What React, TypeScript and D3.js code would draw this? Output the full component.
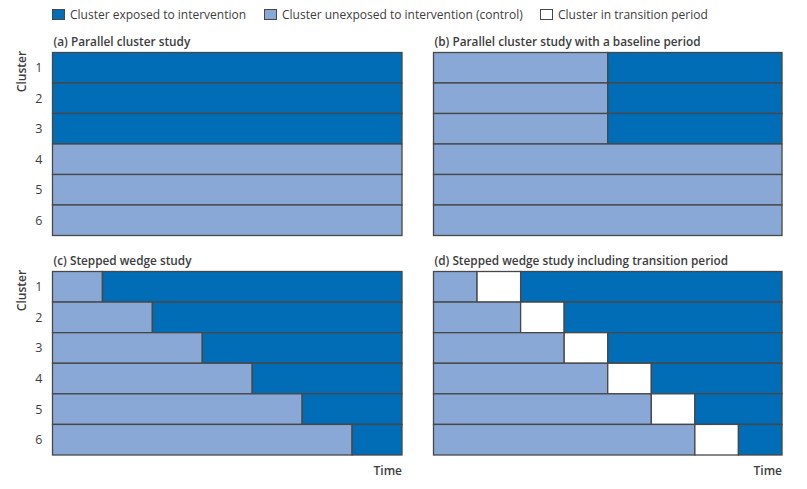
import React from "react";
import * as d3 from "d3";

const clusters = ["1", "2", "3", "4", "5", "6"];
// E = exposed to intervention, C = unexposed (control), T = transition period
const panelAStates = [["E"], ["E"], ["E"], ["C"], ["C"], ["C"]];
const panelBStates = [
  ["C", "E"], ["C", "E"], ["C", "E"], ["C", "C"], ["C", "C"], ["C", "C"],
];
const panelCStates = [
  ["C", "E", "E", "E", "E", "E", "E"],
  ["C", "C", "E", "E", "E", "E", "E"],
  ["C", "C", "C", "E", "E", "E", "E"],
  ["C", "C", "C", "C", "E", "E", "E"],
  ["C", "C", "C", "C", "C", "E", "E"],
  ["C", "C", "C", "C", "C", "C", "E"],
];
const panelDStates = [
  ["C", "T", "E", "E", "E", "E", "E", "E"],
  ["C", "C", "T", "E", "E", "E", "E", "E"],
  ["C", "C", "C", "T", "E", "E", "E", "E"],
  ["C", "C", "C", "C", "T", "E", "E", "E"],
  ["C", "C", "C", "C", "C", "T", "E", "E"],
  ["C", "C", "C", "C", "C", "C", "T", "E"],
];
const panelTitles = [
  "(a) Parallel cluster study",
  "(b) Parallel cluster study with a baseline period",
  "(c) Stepped wedge study",
  "(d) Stepped wedge study including transition period",
];
const legendLabels = [
  { key: "E", label: "Cluster exposed to intervention" },
  { key: "C", label: "Cluster unexposed to intervention (control)" },
  { key: "T", label: "Cluster in transition period" },
];

const COLORS: Record<string, string> = { E: "#006db6", C: "#8aa8d6", T: "#ffffff" };
const STROKE = "#474747";
const TEXT = "#3d3d3d";
const FONT = "'Open Sans', 'Noto Sans', sans-serif";

type PanelProps = {
  states: string[][];
  title: string;
  x0: number;
  x1: number;
  y0: number;
  y1: number;
  showY: boolean;
  showTime: boolean;
};

function Panel({ states, title, x0, x1, y0, y1, showY, showTime }: PanelProps) {
  const n = states[0].length;
  const x = d3.scaleLinear().domain([0, n]).range([x0, x1]);
  const y = d3.scaleBand<string>().domain(clusters).range([y0, y1]).padding(0);
  const segs: { row: string; s: number; e: number; k: string }[] = [];
  states.forEach((row, i) => {
    let start = 0;
    for (let j = 1; j <= row.length; j++) {
      if (j === row.length || row[j] !== row[start]) {
        segs.push({ row: clusters[i], s: start, e: j, k: row[start] });
        start = j;
      }
    }
  });
  return (
    <g>
      <text x={x0 + 1} y={y0 - 7} fill={TEXT} fontFamily={FONT} fontWeight={600} fontSize={11.8}>
        {title}
      </text>
      {segs.map((sg, i) => (
        <rect
          key={i}
          x={x(sg.s)}
          y={y(sg.row)!}
          width={x(sg.e) - x(sg.s)}
          height={y.bandwidth()}
          fill={COLORS[sg.k]}
          stroke={STROKE}
          strokeWidth={1.3}
        />
      ))}
      {showY && (
        <g>
          {clusters.map((c) => (
            <text
              key={c}
              x={x0 - 10}
              y={y(c)! + y.bandwidth() / 2 + 4.5}
              textAnchor="end"
              fill={TEXT}
              fontFamily={FONT}
              fontSize={12.5}
            >
              {c}
            </text>
          ))}
          <text
            transform={`translate(${26},${y0 + 19}) rotate(-90)`}
            textAnchor="middle"
            fill={TEXT}
            fontFamily={FONT}
            fontWeight={600}
            fontSize={12}
          >
            Cluster
          </text>
        </g>
      )}
      {showTime && (
        <text x={x1} y={y1 + 20} textAnchor="end" fill={TEXT} fontFamily={FONT} fontWeight={600} fontSize={12}>
          Time
        </text>
      )}
    </g>
  );
}

export default function App() {
  const legendX = [52, 264, 540];
  return (
    <svg
      width={807}
      height={489}
      style={{ position: "absolute", left: 0, top: 0, background: "#fff" }}
    >
      {legendLabels.map((l, i) => (
        <g key={l.key}>
          <rect x={legendX[i] + 0.5} y={9.5} width={12} height={10} fill={COLORS[l.key]} stroke={STROKE} strokeWidth={1} />
          <text x={legendX[i] + 18} y={18.5} fill={TEXT} fontFamily={FONT} fontSize={12}>
            {l.label}
          </text>
        </g>
      ))}
      <Panel states={panelAStates} title={panelTitles[0]} x0={52.5} x1={402} y0={52.5} y1={235.5} showY showTime={false} />
      <Panel states={panelBStates} title={panelTitles[1]} x0={433.5} x1={782} y0={52.5} y1={235.5} showY={false} showTime={false} />
      <Panel states={panelCStates} title={panelTitles[2]} x0={52.5} x1={402} y0={271.5} y1={455} showY showTime />
      <Panel states={panelDStates} title={panelTitles[3]} x0={433.5} x1={782} y0={271.5} y1={455} showY={false} showTime />
    </svg>
  );
}
